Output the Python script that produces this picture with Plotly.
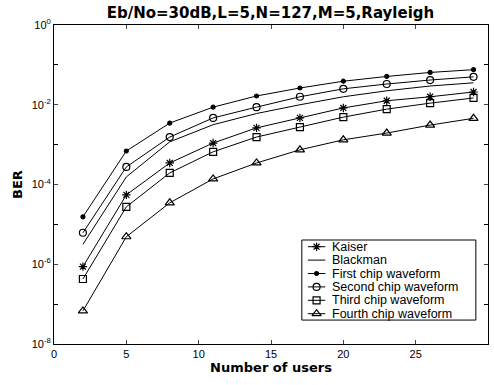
import plotly.graph_objects as go

users = [2, 5, 8, 11, 14, 17, 20, 23, 26, 29]
# log10(BER)
kaiser_log = [-6.06, -4.26, -3.46, -2.96, -2.58, -2.33, -2.08, -1.90, -1.80, -1.68]
blackman_log = [-5.50, -3.81, -2.93, -2.50, -2.22, -2.00, -1.80, -1.65, -1.53, -1.45]
first_log = [-4.81, -3.16, -2.46, -2.06, -1.78, -1.58, -1.41, -1.29, -1.19, -1.12]
second_log = [-5.21, -3.56, -2.81, -2.33, -2.06, -1.80, -1.60, -1.48, -1.38, -1.30]
third_log = [-6.37, -4.56, -3.71, -3.18, -2.81, -2.56, -2.31, -2.11, -1.96, -1.83]
fourth_log = [-7.17, -5.31, -4.46, -3.86, -3.46, -3.13, -2.88, -2.71, -2.51, -2.34]

series_names = ["Kaiser", "Blackman", "First chip waveform", "Second chip waveform",
                "Third chip waveform", "Fourth chip waveform"]
series_vals = [kaiser_log, blackman_log, first_log, second_log, third_log, fourth_log]
series_symbols = ["asterisk-open", None, "circle", "circle-open", "square-open", "triangle-up-open"]
series_sizes = [7, 0, 4, 7, 7, 8]

y_tick_vals = [1e-8, 1e-6, 1e-4, 1e-2, 1]
y_tick_text = ["10<sup>-8</sup>", "10<sup>-6</sup>", "10<sup>-4</sup>",
               "10<sup>-2</sup>", "10<sup>0</sup>"]
y_minor_vals = [1e-7, 1e-5, 1e-3, 1e-1]
x_tick_vals = [0, 5, 10, 15, 20, 25, 30]

font = "Liberation Sans, Arial, sans-serif"
fig = go.Figure()


def marker_style(sym, size):
    return dict(symbol=sym, size=size, color="black", line=dict(color="black", width=1.2))


for name, vals, sym, size in zip(series_names, series_vals, series_symbols, series_sizes):
    ys = [10 ** v for v in vals]
    fig.add_trace(go.Scatter(x=users, y=ys, name=name,
                             mode="lines" if sym is None else "lines+markers",
                             line=dict(color="black", width=1),
                             marker=marker_style(sym, size) if sym else None,
                             showlegend=False))

# custom compact legend (box in paper coordinates, glyphs on a hidden overlay axis)
leg_x0, leg_x1, leg_y0, leg_y1 = 0.571, 0.972, 0.075, 0.326
row_top, row_step = 0.305, 0.042
fig.add_shape(type="rect", xref="paper", yref="paper", x0=leg_x0, x1=leg_x1,
              y0=leg_y0, y1=leg_y1, line=dict(color="black", width=1),
              fillcolor="white", layer="below")
annotations = []
for i, (name, sym, size) in enumerate(zip(series_names, series_symbols, series_sizes)):
    ry = row_top - i * row_step
    fig.add_trace(go.Scatter(x=[0.585, 0.625], y=[ry, ry], xaxis="x2", yaxis="y2",
                             mode="lines", line=dict(color="black", width=1),
                             showlegend=False, hoverinfo="skip"))
    if sym:
        fig.add_trace(go.Scatter(x=[0.605], y=[ry], xaxis="x2", yaxis="y2",
                                 mode="markers", marker=marker_style(sym, size),
                                 showlegend=False, hoverinfo="skip"))
    annotations.append(dict(x=0.636, y=ry, xref="x2", yref="y2", text=name,
                            showarrow=False, xanchor="left", yanchor="middle",
                            font=dict(size=12.5, family=font)))

fig.update_layout(
    width=494, height=385,
    margin=dict(l=54, r=6, t=25, b=41),
    paper_bgcolor="white", plot_bgcolor="white",
    font=dict(family=font, size=11, color="black"),
    title=dict(text="<b>Eb/No=30dB,L=5,N=127,M=5,Rayleigh</b>", x=0.5475, xanchor="center",
               y=0.968, yanchor="middle", font=dict(size=15, family="DejaVu Sans")),
    showlegend=False,
    annotations=annotations,
    xaxis2=dict(overlaying="x", range=[0, 1], visible=False),
    yaxis2=dict(overlaying="y", range=[0, 1], visible=False),
)
fig.layout.xaxis.update(range=[0, 30], tickvals=x_tick_vals, ticks="inside", ticklen=4,
                        showline=True, linecolor="black", linewidth=1, mirror="ticks",
                        showgrid=False, zeroline=False, tickfont=dict(size=11),
                        title=dict(text="<b>Number of users</b>", standoff=3,
                                   font=dict(size=13, family="DejaVu Sans")))
fig.layout.yaxis.update(type="log", range=[-8, 0], tickvals=y_tick_vals, ticktext=y_tick_text,
                        ticks="inside", ticklen=4,
                        minor=dict(tickvals=y_minor_vals, ticks="inside", ticklen=4,
                                   tickcolor="black", showgrid=False),
                        showline=True, linecolor="black", linewidth=1, mirror="ticks",
                        showgrid=False, zeroline=False, tickfont=dict(size=11),
                        title=dict(text="<b>BER</b>", standoff=6,
                                   font=dict(size=13, family="DejaVu Sans")))

fig.write_html("out.html")
